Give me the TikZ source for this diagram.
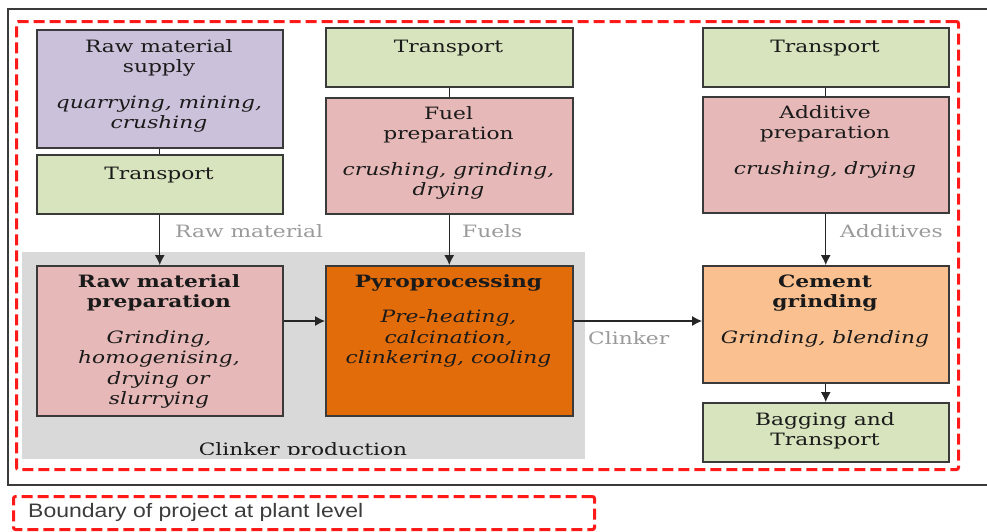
\documentclass[tikz,border=0pt]{standalone}
\usepackage{fontspec}
\setmainfont{DejaVu Serif}[FakeStretch=1.28]
\newfontfamily\legendfont{Liberation Sans}[FakeStretch=1.18]
\usetikzlibrary{arrows.meta}
\definecolor{purplebox}{HTML}{CCC1DA}
\definecolor{greenbox}{HTML}{D7E4BD}
\definecolor{pinkbox}{HTML}{E6B9B8}
\definecolor{pyrobox}{HTML}{E36C0A}
\definecolor{cementbox}{HTML}{FAC090}
\definecolor{clinkergray}{HTML}{D9D9D9}
\definecolor{boxline}{HTML}{3A3A3A}
\definecolor{textcol}{HTML}{1A1A1A}
\definecolor{labelcol}{HTML}{9A9A9A}
\definecolor{boundred}{HTML}{FF1A1A}
\begin{document}
\begin{tikzpicture}[x=1pt,y=-1pt,
  box/.style={draw=boxline, line width=1.5pt, inner sep=0pt, anchor=north west},
  txt/.style={align=center, inner sep=0pt, anchor=north, text=textcol, font=\fontsize{17}{20.5}\selectfont},
  flowlabel/.style={inner sep=0pt, anchor=base west, text=labelcol, font=\fontsize{17}{20.5}\selectfont},
  boundary/.style={draw=boundred, line width=3pt, dash pattern=on 11pt off 5pt, rounded corners=2pt, inner sep=0pt, anchor=north west},
  link/.style={draw=black!85, line width=1.1pt},
  arr/.style={link, -{Latex[length=10pt,width=10pt]}}
]
\useasboundingbox (0,0) rectangle (987,531);
% outer frame
\draw[line width=1.3pt, draw=boxline] (987,9) -- (8,9) -- (8,485) -- (987,485);

% clinker production region
\node[inner sep=0pt, anchor=north west, fill=clinkergray, minimum width=563pt, minimum height=207pt] (clk) at (22,252) {};
\begin{scope}
  \clip (22,252) rectangle (585,454.5);
  \node[inner sep=0pt, anchor=base, text=textcol, font=\fontsize{17}{20.5}\selectfont] (clkT) at (303,455) {Clinker production};
\end{scope}

% boundary
\node[boundary, minimum width=942pt, minimum height=448pt] (bnd) at (15,20) {};

% boxes
\node[box, fill=purplebox, minimum width=246pt, minimum height=118pt] (rms) at (36,29) {};
\node[box, fill=greenbox, minimum width=246pt, minimum height=59pt] (tl) at (36,154) {};
\node[box, fill=greenbox, minimum width=247pt, minimum height=59pt] (tm) at (325,27) {};
\node[box, fill=pinkbox, minimum width=247pt, minimum height=116pt] (fuel) at (325,97) {};
\node[box, fill=greenbox, minimum width=246pt, minimum height=59pt] (tr) at (702,27) {};
\node[box, fill=pinkbox, minimum width=246pt, minimum height=116pt] (add) at (702,96) {};
\node[box, fill=pinkbox, minimum width=246pt, minimum height=150pt] (rmp) at (36,265) {};
\node[box, fill=pyrobox, minimum width=247pt, minimum height=150pt] (pyro) at (325,265) {};
\node[box, fill=cementbox, minimum width=246pt, minimum height=117pt] (cem) at (702,265) {};
\node[box, fill=greenbox, minimum width=246pt, minimum height=59pt] (bag) at (702,402) {};

% box texts
\node[txt] (rmsT) at (159,52-14.35) {\strut Raw material\\ supply\\[15pt] \textit{quarrying, mining,}\\ \textit{crushing}};
\node[txt] (tlT) at (159,179-14.35) {\strut Transport};
\node[txt] (tmT) at (448.5,52-14.35) {\strut Transport};
\node[txt] (fuelT) at (448.5,119-14.35) {\strut Fuel\\ preparation\\[15pt] \textit{crushing, grinding,}\\ \textit{drying}};
\node[txt] (trT) at (825,52-14.35) {\strut Transport};
\node[txt] (addT) at (825,118-14.35) {\strut Additive\\ preparation\\[15pt] \textit{crushing, drying}};
\node[txt] (rmpT) at (159,287-14.35) {\strut \textbf{Raw material}\\ \textbf{preparation}\\[15pt] \textit{Grinding,}\\ \textit{homogenising,}\\ \textit{drying or}\\ \textit{slurrying}};
\node[txt] (pyroT) at (448.5,287-14.35) {\strut \textbf{Pyroprocessing}\\[15pt] \textit{Pre-heating,}\\ \textit{calcination,}\\ \textit{clinkering, cooling}};
\node[txt] (cemT) at (825,287-14.35) {\strut \textbf{Cement}\\ \textbf{grinding}\\[15pt] \textit{Grinding, blending}};
\node[txt] (bagT) at (825,425-14.35) {\strut Bagging and\\ Transport};

% connectors
\draw[link] (rms.south) -- (tl.north);
\draw[link] (tm.south) -- (fuel.north);
\draw[link] (tr.south) -- (add.north);
\draw[arr] (tl.south) -- (rmp.north);
\draw[arr] (fuel.south) -- (pyro.north);
\draw[arr] (add.south) -- (cem.north);
\draw[arr] (cem.south) -- (bag.north);
\draw[arr] ([yshift=-56pt]rmp.north east) -- ([yshift=-56pt]pyro.north west);
\draw[arr] ([yshift=-56pt]pyro.north east) -- ([yshift=-56pt]cem.north west);

% flow labels
\node[flowlabel] (lraw) at (175,237) {Raw material};
\node[flowlabel] (lfuel) at (462,237) {Fuels};
\node[flowlabel] (ladd) at (840,237) {Additives};
\node[flowlabel] (lclk) at (588,344) {Clinker};

% legend
\node[boundary, minimum width=581pt, minimum height=33pt] (leg) at (12,495) {};
\node[inner sep=0pt, anchor=west, text=textcol!85, font=\legendfont\fontsize{19.5}{22}\selectfont] (legT) at (28,512) {Boundary of project at plant level};
\end{tikzpicture}
\end{document}
